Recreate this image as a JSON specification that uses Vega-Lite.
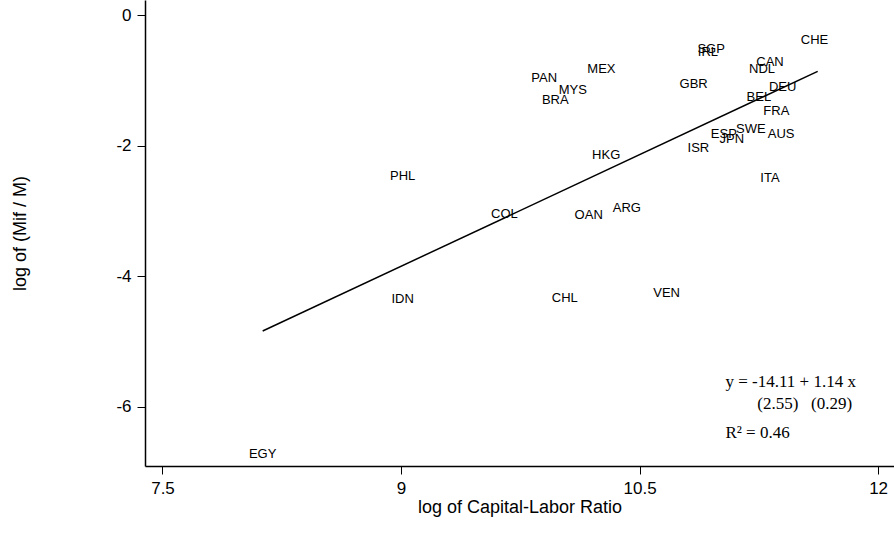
{
  "$schema": "https://vega.github.io/schema/vega-lite/v6.json",
  "width": 749,
  "height": 466,
  "autosize": "none",
  "padding": {"left": 145, "top": 0, "right": 0, "bottom": 67},
  "background": "white",
  "config": {
    "view": {"stroke": null},
    "font": "Liberation Sans",
    "axis": {
      "grid": false,
      "domainColor": "black",
      "domainWidth": 1.5,
      "tickColor": "black",
      "tickWidth": 1,
      "tickSize": 8,
      "labelColor": "black",
      "labelFont": "Liberation Sans",
      "labelFontSize": 17,
      "titleColor": "black",
      "titleFont": "Liberation Sans",
      "titleFontSize": 18,
      "titleFontWeight": "normal",
      "labelOverlap": false,
      "labelFlush": false
    }
  },
  "datasets": {
    "countries": [
      {"code": "CHE", "k": 11.60, "m": -0.38},
      {"code": "SGP", "k": 10.95, "m": -0.52},
      {"code": "IRL", "k": 10.93, "m": -0.56},
      {"code": "CAN", "k": 11.32, "m": -0.72},
      {"code": "NDL", "k": 11.27, "m": -0.82},
      {"code": "DEU", "k": 11.40, "m": -1.10},
      {"code": "BEL", "k": 11.25, "m": -1.25},
      {"code": "FRA", "k": 11.36, "m": -1.47},
      {"code": "SWE", "k": 11.20, "m": -1.75},
      {"code": "AUS", "k": 11.39, "m": -1.83},
      {"code": "ESP", "k": 11.03, "m": -1.82},
      {"code": "JPN", "k": 11.08, "m": -1.90},
      {"code": "ISR", "k": 10.87, "m": -2.04},
      {"code": "ITA", "k": 11.32, "m": -2.49},
      {"code": "GBR", "k": 10.84, "m": -1.05},
      {"code": "MEX", "k": 10.26, "m": -0.82},
      {"code": "PAN", "k": 9.90, "m": -0.96},
      {"code": "MYS", "k": 10.08, "m": -1.15},
      {"code": "BRA", "k": 9.97, "m": -1.30},
      {"code": "HKG", "k": 10.29, "m": -2.15},
      {"code": "PHL", "k": 9.01, "m": -2.46},
      {"code": "COL", "k": 9.65, "m": -3.05},
      {"code": "OAN", "k": 10.18, "m": -3.06},
      {"code": "ARG", "k": 10.42, "m": -2.95},
      {"code": "IDN", "k": 9.01, "m": -4.35},
      {"code": "CHL", "k": 10.03, "m": -4.33},
      {"code": "VEN", "k": 10.67, "m": -4.26},
      {"code": "EGY", "k": 8.13, "m": -6.72}
    ],
    "fit": [
      {"k": 8.13, "m": -4.842},
      {"k": 11.62, "m": -0.863}
    ],
    "notes": [
      {"text": "y = -14.11 + 1.14 x", "k": 11.04, "m": -5.62},
      {"text": "(2.55)\u00a0\u00a0\u00a0(0.29)", "k": 11.24, "m": -5.96},
      {"text": "R² = 0.46", "k": 11.04, "m": -6.40}
    ]
  },
  "layer": [
    {
      "data": {"name": "fit"},
      "mark": {"type": "line", "color": "black", "strokeWidth": 1.5},
      "encoding": {
        "x": {
          "field": "k", "type": "quantitative",
          "scale": {"domain": [7.39, 12.1], "nice": false, "zero": false},
          "axis": {"values": [7.5, 9, 10.5, 12], "labelExpr": "'' + datum.value", "title": "log of Capital-Labor Ratio", "labelPadding": 6, "titlePadding": 2}
        },
        "y": {
          "field": "m", "type": "quantitative",
          "scale": {"domain": [-6.91, 0.23], "nice": false, "zero": false},
          "axis": {"values": [0, -2, -4, -6], "labelExpr": "'' + datum.value", "title": "log of (Mif / M)", "labelPadding": 6, "titlePadding": 86}
        }
      }
    },
    {
      "data": {"name": "countries"},
      "mark": {"type": "text", "font": "Liberation Sans", "fontSize": 13, "color": "black", "align": "center", "baseline": "middle"},
      "encoding": {
        "x": {"field": "k", "type": "quantitative"},
        "y": {"field": "m", "type": "quantitative"},
        "text": {"field": "code"}
      }
    },
    {
      "data": {"name": "notes"},
      "mark": {"type": "text", "font": "Liberation Serif", "fontSize": 17, "color": "black", "align": "left", "baseline": "middle"},
      "encoding": {
        "x": {"field": "k", "type": "quantitative"},
        "y": {"field": "m", "type": "quantitative"},
        "text": {"field": "text"}
      }
    }
  ]
}
